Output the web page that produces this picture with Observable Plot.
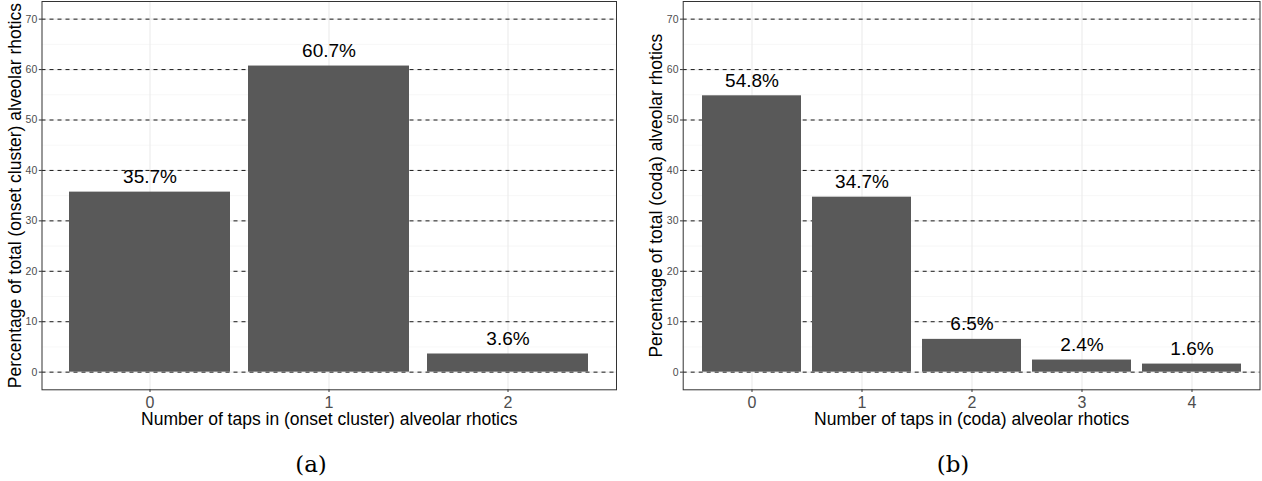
<!DOCTYPE html>
<html>
<head>
<meta charset="utf-8">
<script src="https://cdn.jsdelivr.net/npm/d3@7"></script>
<script src="https://cdn.jsdelivr.net/npm/@observablehq/plot@0.6"></script>
<style>
  html, body { margin: 0; padding: 0; background: #fff; }
  #wrap { position: relative; width: 1262px; height: 481px; overflow: hidden; font-family: "Liberation Sans", Arial, sans-serif; }
  .panel { position: absolute; top: 0; }
  .cap { position: absolute; font-family: "DejaVu Serif", "Liberation Serif", serif; font-size: 23px; line-height: 1; color: #000; transform: translate(-50%, -50%); white-space: nowrap; }
  svg g[aria-label="y-axis tick label"] text, svg g[aria-label="x-axis tick label"] text { fill: #4D4D4D; }
</style>
</head>
<body>
<div id="wrap"></div>
<script>
// ---- data ----
const tapsA = ["0", "1", "2"];
const pctA = [35.7, 60.7, 3.6];
const tapsB = ["0", "1", "2", "3", "4"];
const pctB = [54.8, 34.7, 6.5, 2.4, 1.6];
const yTicks = [0, 10, 20, 30, 40, 50, 60, 70];
const yMinor = [5, 15, 25, 35, 45, 55, 65];
const yTitleA = "Percentage of total (onset cluster) alveolar rhotics";
const xTitleA = "Number of taps in (onset cluster) alveolar rhotics";
const yTitleB = "Percentage of total (coda) alveolar rhotics";
const xTitleB = "Number of taps in (coda) alveolar rhotics";
const captions = ["(a)", "(b)"];

const W = 631, H = 430;
const FONT = "Liberation Sans, Arial, sans-serif";

function panel(cats, vals, yTitle, xTitle, mL, mR) {
  const data = cats.map((c, i) => ({tap: c, pct: vals[i]}));
  return Plot.plot({
    width: W, height: H,
    marginLeft: mL, marginRight: mR, marginTop: 1, marginBottom: 40.7,
    style: {fontFamily: FONT, background: "white", overflow: "visible"},
    x: {type: "band", domain: cats, paddingInner: 0.1, paddingOuter: 0.15, label: null},
    y: {domain: [-3.5, 73.5], label: null},
    marks: [
      Plot.ruleY(yMinor, {stroke: "#F2F2F2", strokeWidth: 0.6}),
      Plot.ruleY(yTicks, {stroke: "#EBEBEB", strokeWidth: 1.1}),
      Plot.ruleX(cats, {x: d => d, stroke: "#EBEBEB", strokeWidth: 1.1}),
      Plot.ruleY(yTicks, {stroke: "#000", strokeWidth: 0.9, strokeDasharray: "4,4"}),
      Plot.barY(data, {x: "tap", y: "pct", fill: "#595959"}),
      Plot.text(data, {x: "tap", y: "pct", text: d => d.pct.toFixed(1) + "%", lineAnchor: "bottom", dy: -9, fontSize: 19, fill: "#000"}),
      Plot.frame({stroke: "#333333", strokeWidth: 1}),
      Plot.axisY({ticks: yTicks, tickSize: 2.7, tickPadding: 2, fontSize: 10.5, stroke: "#333333", label: null}),
      Plot.axisX({tickSize: 2.7, tickPadding: 4, fontSize: 16, stroke: "#333333", label: null}),
      Plot.text([yTitle], {frameAnchor: "left", textAnchor: "middle", lineAnchor: "middle", dx: -27, rotate: -90, fontSize: 17.5, fill: "#000"}),
      Plot.text([xTitle], {frameAnchor: "bottom", textAnchor: "middle", lineAnchor: "middle", dy: 29.5, fontSize: 17.5, fill: "#000"})
    ]
  });
}

const wrap = document.getElementById("wrap");
const a = panel(tapsA, pctA, yTitleA, xTitleA, 41.5, 15);
a.classList.add("panel"); a.style.left = "0px";
const b = panel(tapsB, pctB, yTitleB, xTitleB, 51.7, 2.5);
b.classList.add("panel"); b.style.left = "631px";
wrap.appendChild(a); wrap.appendChild(b);

[[311, captions[0]], [953, captions[1]]].forEach(([x, t]) => {
  const d = document.createElement("div");
  d.className = "cap"; d.textContent = t;
  d.style.left = x + "px"; d.style.top = "464px";
  wrap.appendChild(d);
});
</script>
</body>
</html>
